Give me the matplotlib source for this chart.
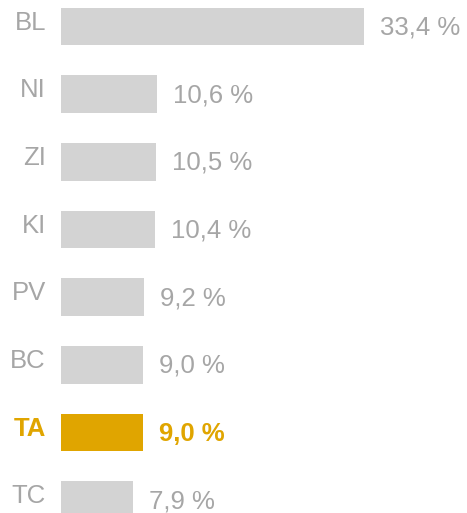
import matplotlib.pyplot as plt

plt.rcParams['font.family'] = ['Liberation Sans', 'DejaVu Sans']

# Daten
regions = ['BL', 'NI', 'ZI', 'KI', 'PV', 'BC', 'TA', 'TC']
shares = [33.4, 10.6, 10.5, 10.4, 9.2, 9.0, 9.0, 7.9]
highlight = 'TA'

grey_bar = '#D3D3D3'
grey_text = '#A6A6A6'
orange = '#E0A500'

W, H = 467, 513
fig = plt.figure(figsize=(W / 100, H / 100), dpi=100)
# Achse in Pixeln: links 61 px, unten leicht außerhalb (letzter Balken abgeschnitten)
ax = fig.add_axes([61 / W, (513 - 534) / H, 408 / W, 541.3 / H])

ypos = list(range(len(regions)))
colors = [orange if r == highlight else grey_bar for r in regions]
ax.barh(ypos, shares, height=0.554, color=colors)

for y, r, v in zip(ypos, regions, shares):
    is_hl = r == highlight
    c = orange if is_hl else grey_text
    fw = 'bold' if is_hl else 'normal'
    # Kategorie
    ax.annotate(r, xy=(0, y), xycoords=('axes fraction', 'data'),
                xytext=(-15, 4), textcoords='offset pixels',
                ha='right', va='center', fontsize=18.5, color=c, fontweight=fw)
    # Wert
    label = f'{v:.1f} %'.replace('.', ',')
    ax.annotate(label, xy=(v, y), xytext=(16, -1), textcoords='offset pixels',
                ha='left', va='center', fontsize=18.5, color=c, fontweight=fw)

ax.set_xlim(0, 45)
ax.set_ylim(len(regions) - 0.5, -0.5)
ax.axis('off')

fig.savefig('out.png', dpi=100)
